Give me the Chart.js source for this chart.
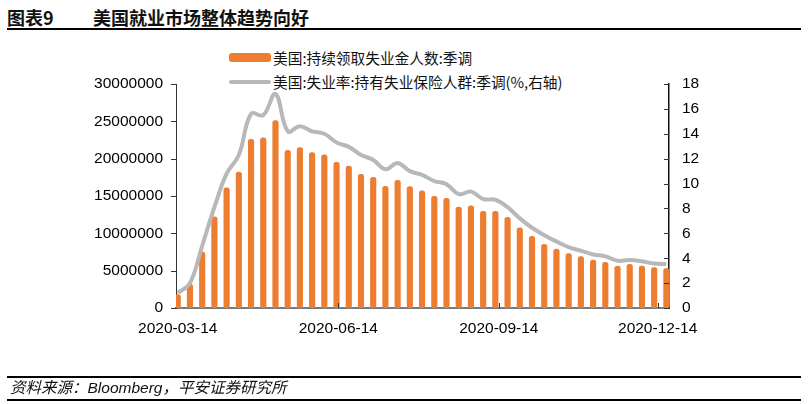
<!DOCTYPE html>
<html>
<head>
<meta charset="utf-8">
<script src="https://cdn.jsdelivr.net/npm/chart.js@4.4.1/dist/chart.umd.min.js"></script>
<style>
  html, body { margin: 0; padding: 0; background: #fff; }
  #wrap { position: relative; width: 810px; height: 404px; overflow: hidden; font-family: "Liberation Sans", "Noto Sans CJK SC", sans-serif; }
  #chart { position: absolute; left: 0; top: 0; }
  .title { position: absolute; top: 4px; font: bold 18px "Noto Sans CJK SC", sans-serif; color: #111; }
  .rule { position: absolute; left: 7px; width: 794px; background: #000; }
  .footer { position: absolute; left: 10px; top: 375px; font: italic 15.5px "Liberation Sans", "Noto Sans CJK SC", sans-serif; color: #111; }
  .legend-row { position: absolute; left: 229px; display: flex; align-items: center; font: 14.7px "Noto Sans CJK SC", sans-serif; color: #111; }
  .swatch { width: 42px; margin-right: 2px; }
</style>
</head>
<body>
<div id="wrap">
  <div class="title" style="left:7px">图表9</div>
  <div class="title" style="left:93px">美国就业市场整体趋势向好</div>
  <div class="rule" style="top:28px;height:2px"></div>
  <div id="legend"></div>
  <canvas id="chart" width="810" height="404"></canvas>
  <div class="rule" style="top:376px;height:1.5px"></div>
  <div class="footer">资料来源：Bloomberg，平安证券研究所</div>
  <div class="rule" style="top:399px;height:1.5px"></div>
</div>
<script>
// ===== DATA =====
const weeks = [
  '2020-03-14', '2020-03-21', '2020-03-28', '2020-04-04', '2020-04-11', '2020-04-18', '2020-04-25',
  '2020-05-02', '2020-05-09', '2020-05-16', '2020-05-23', '2020-05-30', '2020-06-06', '2020-06-13',
  '2020-06-20', '2020-06-27', '2020-07-04', '2020-07-11', '2020-07-18', '2020-07-25', '2020-08-01',
  '2020-08-08', '2020-08-15', '2020-08-22', '2020-08-29', '2020-09-05', '2020-09-12', '2020-09-19',
  '2020-09-26', '2020-10-03', '2020-10-10', '2020-10-17', '2020-10-24', '2020-10-31', '2020-11-07',
  '2020-11-14', '2020-11-21', '2020-11-28', '2020-12-05', '2020-12-12', '2020-12-19'
];

// continuing claims, SA (persons)
const continuingClaims = [
  1800000, 3170000, 7500000, 12200000, 16100000, 18200000, 22600000,
  22800000, 25100000, 21100000, 21500000, 20800000, 20500000, 19500000,
  19000000, 17900000, 17500000, 16300000, 17100000, 16250000, 15700000,
  14950000, 14700000, 13500000, 13700000, 12950000, 12950000, 12150000,
  10750000, 9600000, 8530000, 7900000, 7280000, 6880000, 6430000,
  6120000, 5630000, 5850000, 5630000, 5400000, 5270000
];

// insured unemployment rate, SA (%)
const insuredRate = [
  1.2, 2.0, 5.0, 8.1, 10.8, 12.3, 15.6,
  15.5, 17.2, 14.2, 14.6, 14.2, 14.0, 13.3,
  12.95, 12.3, 11.9, 11.15, 11.65, 11.0, 10.7,
  10.2, 9.95, 9.15, 9.35, 8.75, 8.7, 8.1,
  7.2, 6.45, 5.85, 5.35, 4.9, 4.6, 4.3,
  4.15, 3.8, 3.85, 3.75, 3.57, 3.54
];

const xTickLabels = ['2020-03-14', '2020-06-14', '2020-09-14', '2020-12-14'];
const leftTicks = [0, 5000000, 10000000, 15000000, 20000000, 25000000, 30000000];
const rightTicks = [0, 2, 4, 6, 8, 10, 12, 14, 16, 18];

const seriesNames = ['美国:持续领取失业金人数:季调', '美国:失业率:持有失业保险人群:季调(%,右轴)'];

// ===== HELPERS =====
const DAY = 86400000;
const origin = Date.parse(weeks[0]);
const toDay = s => Math.round((Date.parse(s) - origin) / DAY);

const BAR_COLOR = '#ED7D31';
const LINE_COLOR = '#B8B8B8';

// ===== LEGEND =====
document.getElementById('legend').innerHTML = `
  <div class="legend-row" style="top:47px">
    <div class="swatch" style="height:9px;border-radius:3px;background:${BAR_COLOR}"></div>${seriesNames[0]}
  </div>
  <div class="legend-row" style="top:71px">
    <div class="swatch" style="height:4px;border-radius:2px;background:${LINE_COLOR}"></div>${seriesNames[1]}
  </div>`;

// ===== TICK MARKS (left outside, right/bottom inside) =====
const tickMarks = {
  id: 'tickMarks',
  afterDraw(chart) {
    const { ctx, chartArea: a, scales } = chart;
    ctx.save();
    ctx.lineWidth = 1;
    ctx.strokeStyle = '#333';
    ctx.beginPath();
    scales.y.ticks.forEach(t => {
      const py = Math.round(scales.y.getPixelForValue(t.value)) + 0.5;
      ctx.moveTo(a.left - 5, py); ctx.lineTo(a.left, py);
    });
    scales.y1.ticks.forEach(t => {
      const py = Math.round(scales.y1.getPixelForValue(t.value)) + 0.5;
      ctx.moveTo(a.right - 5, py); ctx.lineTo(a.right, py);
    });
    scales.x.ticks.slice(1).forEach(t => {
      const px = Math.round(scales.x.getPixelForValue(t.value)) + 0.5;
      ctx.moveTo(px, a.bottom); ctx.lineTo(px, a.bottom - 5);
    });
    ctx.stroke();
    ctx.restore();
  }
};

// ===== CHART =====
const tickFont = { family: 'Liberation Sans', size: 15.5 };

new Chart(document.getElementById('chart'), {
  data: {
    datasets: [
      {
        type: 'line',
        label: seriesNames[1],
        data: weeks.map((w, i) => ({ x: toDay(w), y: insuredRate[i] })),
        yAxisID: 'y1',
        borderColor: LINE_COLOR,
        borderWidth: 4,
        pointRadius: 0,
        tension: 0.4,
        order: 0,
      },
      {
        type: 'bar',
        label: seriesNames[0],
        data: weeks.map((w, i) => ({ x: toDay(w), y: continuingClaims[i] })),
        yAxisID: 'y',
        backgroundColor: BAR_COLOR,
        barThickness: 5.5,
        borderRadius: 2.5,
        borderSkipped: false,
        order: 1,
      },
    ],
  },
  options: {
    responsive: false,
    animation: false,
    layout: { padding: { top: 84, left: 0, right: 0, bottom: 66 } },
    plugins: { legend: { display: false }, tooltip: { enabled: false } },
    scales: {
      x: {
        type: 'linear',
        min: -1,
        max: 281.5,
        offset: false,
        grid: { display: false, drawTicks: false, offset: false },
        border: { color: '#7a7a7a', width: 2 },
        afterBuildTicks: s => { s.ticks = xTickLabels.map(l => ({ value: toDay(l) })); },
        afterFit: s => { s.height = 30; },
        ticks: {
          font: tickFont, color: '#000', padding: 11, maxRotation: 0, autoSkip: false,
          callback: v => xTickLabels.find(l => toDay(l) === v) || '',
        },
      },
      y: {
        position: 'left',
        min: 0,
        max: 30000000,
        grid: { display: false, drawTicks: false },
        border: { color: '#333', width: 1 },
        afterBuildTicks: s => { s.ticks = leftTicks.map(v => ({ value: v })); },
        afterFit: s => { s.width = 176; },
        ticks: { font: tickFont, color: '#000', padding: 13, callback: v => String(v) },
      },
      y1: {
        position: 'right',
        min: 0,
        max: 18,
        grid: { display: false, drawTicks: false },
        border: { color: '#111', width: 1.5 },
        afterBuildTicks: s => { s.ticks = rightTicks.map(v => ({ value: v })); },
        afterFit: s => { s.width = 141; },
        ticks: { font: tickFont, color: '#000', padding: 13 },
      },
    },
  },
  plugins: [tickMarks],
});
</script>
</body>
</html>
